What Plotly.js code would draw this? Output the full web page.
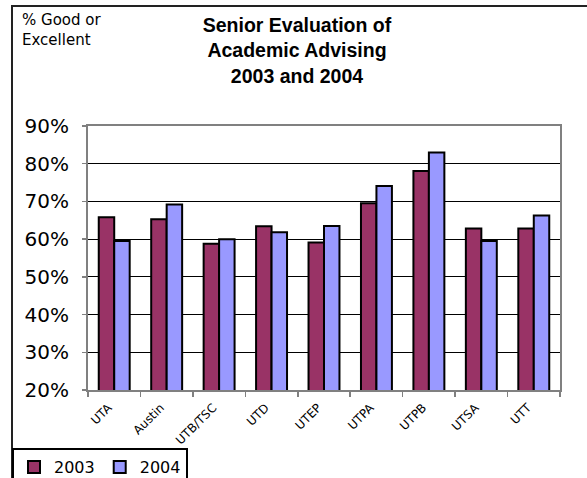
<!DOCTYPE html>
<html>
<head>
<meta charset="utf-8">
<script src="https://cdn.plot.ly/plotly-3.0.1.min.js"></script>
<style>
  html, body { margin: 0; padding: 0; background: #ffffff; }
  #chart { width: 587px; height: 478px; }
</style>
</head>
<body>
<div id="chart"></div>
<script>
const campuses = ["UTA", "Austin", "UTB/TSC", "UTD", "UTEP", "UTPA", "UTPB", "UTSA", "UTT"];
const values2003 = [65.8, 65.3, 58.8, 63.4, 59.1, 69.5, 78.1, 62.8, 62.8];
const values2004 = [59.5, 69.2, 60.0, 61.8, 63.5, 74.1, 83.0, 59.5, 66.3];
const seriesNames = ["2003", "2004"];
const yTicks = [20, 30, 40, 50, 60, 70, 80, 90];

const W = 587, H = 478;
const M = { l: 88, r: 27, t: 126, b: 88, autoexpand: false };
const pw = W - M.l - M.r, ph = H - M.t - M.b;
const px = x => (x - M.l) / pw;          // pixel -> paper x
const py = y => 1 - (y - M.t) / ph;      // pixel -> paper y

const font = "DejaVu Sans, Verdana, Tahoma, sans-serif";
const titleFont = "Liberation Sans, Arial, sans-serif";

const traces = [
  {
    type: "bar", name: seriesNames[0], x: campuses, y: values2003,
    marker: { color: "#993366", line: { color: "#000000", width: 2 } },
    hoverinfo: "skip"
  },
  {
    type: "bar", name: seriesNames[1], x: campuses, y: values2004,
    marker: { color: "#9999FF", line: { color: "#000000", width: 2 } },
    hoverinfo: "skip"
  }
];

const layout = {
  width: W, height: H,
  margin: M,
  paper_bgcolor: "#ffffff",
  plot_bgcolor: "#ffffff",
  barmode: "group",
  bargap: 0.41,
  bargroupgap: 0,
  font: { family: font, color: "#000000" },
  title: {
    text: "<b>Senior Evaluation of<br>Academic Advising<br>2003 and 2004</b>",
    font: { family: titleFont, size: 19.5, color: "#000000" },
    x: 297 / W, xanchor: "center", xref: "container",
    y: 1 - 32 / H, yanchor: "top", yref: "container"
  },
  xaxis: {
    type: "category",
    tickangle: -45,
    tickfont: { family: font, size: 12, color: "#000000" },
    ticks: "outside", tickson: "boundaries", ticklen: 5, tickcolor: "#808080", tickwidth: 1.5,
    ticklabelshift: -6, ticklabelstandoff: 4,
    showline: true, linecolor: "#808080", linewidth: 2, mirror: true,
    showgrid: false, zeroline: false, fixedrange: true, automargin: false
  },
  yaxis: {
    range: [20, 90],
    tickvals: yTicks,
    ticktext: yTicks.map(v => v + "%"),
    tickfont: { family: font, size: 20, color: "#000000" },
    ticks: "outside", ticklen: 4, tickcolor: "#808080", tickwidth: 1.5,
    ticklabelstandoff: 9,
    showline: true, linecolor: "#808080", linewidth: 2, mirror: true,
    showgrid: true, gridcolor: "#000000", gridwidth: 1,
    zeroline: false, fixedrange: true, automargin: false
  },
  legend: {
    orientation: "h",
    x: px(12), xanchor: "left",
    y: py(448), yanchor: "top",
    bgcolor: "#ffffff", bordercolor: "#000000", borderwidth: 2,
    font: { family: font, size: 16, color: "#000000" },
    traceorder: "normal"
  },
  shapes: [
    {
      type: "rect", xref: "paper", yref: "paper", layer: "below",
      x0: px(12), x1: px(600), y0: py(500), y1: py(6),
      line: { color: "#222222", width: 2 }, fillcolor: "rgba(0,0,0,0)"
    }
  ],
  annotations: [
    {
      text: "% Good or<br>Excellent",
      xref: "paper", yref: "paper",
      x: px(20), xanchor: "left",
      y: py(9), yanchor: "top",
      showarrow: false, align: "left",
      font: { family: font, size: 15, color: "#000000" }
    }
  ]
};

Plotly.newPlot("chart", traces, layout, { displayModeBar: false, staticPlot: true });
</script>
</body>
</html>
